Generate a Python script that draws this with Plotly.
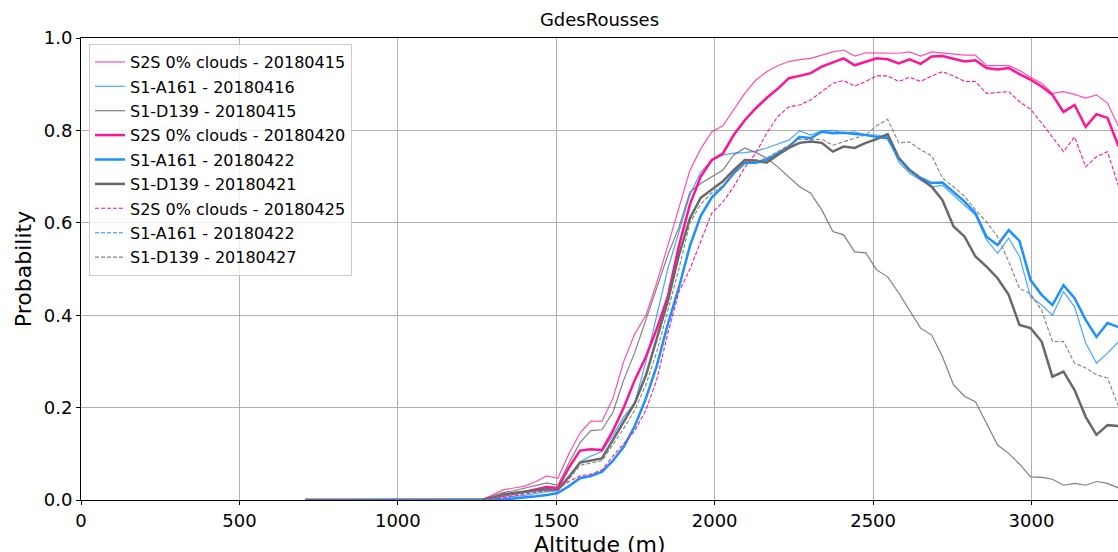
import plotly.graph_objects as go

altitude = [707, 742, 776, 811, 846, 880, 915, 950, 985, 1019, 1054, 1089, 1123, 1158, 1193,
            1227, 1262, 1297, 1332, 1366, 1401, 1436, 1470, 1505, 1540, 1575, 1609, 1644, 1679,
            1713, 1748, 1783, 1817, 1852, 1887, 1922, 1956, 1991, 2026, 2060, 2095, 2130, 2164,
            2199, 2234, 2268, 2303, 2338, 2373, 2407, 2442, 2477, 2511, 2546, 2581, 2615, 2650,
            2685, 2719, 2754, 2789, 2823, 2858, 2893, 2928, 2962, 2997, 3032, 3066, 3101, 3136,
            3171, 3205, 3240, 3275]

Z = [0.0] * 16

s2s_20180415 = Z + [
    0.0, 0.01, 0.022, 0.026, 0.03, 0.04, 0.052, 0.047, 0.10, 0.145,
    0.171, 0.17, 0.22, 0.30, 0.36, 0.40, 0.47, 0.55, 0.63, 0.714,
    0.76, 0.797, 0.81, 0.844, 0.88, 0.909, 0.927, 0.94, 0.949, 0.953,
    0.956, 0.963, 0.970, 0.974, 0.961, 0.968, 0.968, 0.968, 0.967, 0.970,
    0.961, 0.970, 0.968, 0.965, 0.963, 0.963, 0.94, 0.94, 0.94, 0.93,
    0.915, 0.902, 0.880, 0.884, 0.878, 0.870, 0.877, 0.859, 0.808]

s1a_20180416 = Z + [
    0.0, 0.002, 0.004, 0.008, 0.01, 0.014, 0.018, 0.02, 0.05, 0.083,
    0.095, 0.105, 0.14, 0.18, 0.21, 0.30, 0.40, 0.50, 0.58, 0.66,
    0.71, 0.735, 0.747, 0.751, 0.752, 0.755, 0.762, 0.77, 0.779, 0.799,
    0.790, 0.799, 0.80, 0.794, 0.797, 0.79, 0.79, 0.786, 0.732, 0.707,
    0.693, 0.678, 0.681, 0.66, 0.638, 0.617, 0.563, 0.534, 0.567, 0.527,
    0.44, 0.422, 0.40, 0.451, 0.418, 0.34, 0.296, 0.318, 0.343]

s1d_20180415 = Z + [
    0.0, 0.008, 0.016, 0.02, 0.026, 0.032, 0.037, 0.032, 0.08, 0.124,
    0.15, 0.152, 0.19, 0.26, 0.32, 0.39, 0.46, 0.53, 0.59, 0.667,
    0.685, 0.70, 0.714, 0.747, 0.762, 0.752, 0.74, 0.721, 0.70, 0.678,
    0.664, 0.628, 0.581, 0.574, 0.537, 0.535, 0.498, 0.483, 0.448, 0.411,
    0.372, 0.357, 0.31, 0.249, 0.224, 0.213, 0.167, 0.119, 0.101, 0.078,
    0.05, 0.049, 0.045, 0.032, 0.036, 0.032, 0.04, 0.036, 0.026]

s2s_20180420 = Z + [
    0.0, 0.005, 0.01, 0.014, 0.018, 0.023, 0.028, 0.026, 0.07, 0.107,
    0.110, 0.108, 0.15, 0.20, 0.26, 0.31, 0.37, 0.44, 0.55, 0.64,
    0.70, 0.736, 0.75, 0.790, 0.822, 0.848, 0.870, 0.89, 0.913, 0.918,
    0.924, 0.938, 0.948, 0.956, 0.941, 0.949, 0.956, 0.954, 0.945, 0.954,
    0.944, 0.960, 0.961, 0.955, 0.949, 0.952, 0.935, 0.932, 0.935, 0.922,
    0.91, 0.895, 0.877, 0.840, 0.855, 0.808, 0.835, 0.827, 0.765]

s1a_20180422 = Z + [
    0.0, 0.0, 0.001, 0.003, 0.005, 0.008, 0.011, 0.015, 0.03, 0.047,
    0.052, 0.061, 0.085, 0.115, 0.16, 0.22, 0.29, 0.38, 0.46, 0.55,
    0.615, 0.655, 0.678, 0.707, 0.730, 0.730, 0.736, 0.751, 0.765, 0.786,
    0.783, 0.797, 0.794, 0.795, 0.793, 0.790, 0.786, 0.783, 0.740, 0.714,
    0.697, 0.686, 0.687, 0.667, 0.646, 0.621, 0.570, 0.552, 0.584, 0.561,
    0.476, 0.444, 0.422, 0.465, 0.437, 0.39, 0.353, 0.383, 0.374]

s1d_20180421 = Z + [
    0.0, 0.004, 0.012, 0.015, 0.018, 0.02, 0.023, 0.022, 0.05, 0.081,
    0.085, 0.09, 0.13, 0.17, 0.21, 0.27, 0.35, 0.43, 0.53, 0.61,
    0.654, 0.672, 0.69, 0.714, 0.736, 0.735, 0.73, 0.747, 0.762, 0.773,
    0.776, 0.773, 0.754, 0.765, 0.762, 0.773, 0.781, 0.792, 0.740, 0.714,
    0.697, 0.678, 0.649, 0.592, 0.570, 0.527, 0.505, 0.48, 0.444, 0.379,
    0.372, 0.343, 0.267, 0.278, 0.238, 0.18, 0.141, 0.162, 0.16]

s2s_20180425 = Z + [
    0.0, 0.002, 0.006, 0.01, 0.013, 0.017, 0.02, 0.025, 0.04, 0.052,
    0.056, 0.065, 0.095, 0.123, 0.15, 0.195, 0.26, 0.36, 0.45, 0.50,
    0.56, 0.621, 0.645, 0.678, 0.72, 0.751, 0.794, 0.83, 0.851, 0.855,
    0.866, 0.884, 0.902, 0.908, 0.896, 0.906, 0.918, 0.918, 0.906, 0.915,
    0.906, 0.918, 0.927, 0.918, 0.906, 0.906, 0.880, 0.882, 0.884, 0.862,
    0.846, 0.816, 0.786, 0.754, 0.786, 0.721, 0.743, 0.754, 0.678]

s1a_20180422_b = list(s1a_20180422)

s1d_20180427 = Z + [
    0.0, 0.003, 0.01, 0.012, 0.015, 0.018, 0.02, 0.02, 0.045, 0.075,
    0.08, 0.085, 0.12, 0.155, 0.195, 0.25, 0.32, 0.41, 0.50, 0.60,
    0.64, 0.665, 0.68, 0.707, 0.733, 0.733, 0.74, 0.754, 0.768, 0.781,
    0.78, 0.781, 0.768, 0.776, 0.783, 0.79, 0.81, 0.824, 0.773, 0.775,
    0.758, 0.745, 0.697, 0.678, 0.657, 0.628, 0.602, 0.57, 0.516, 0.458,
    0.446, 0.411, 0.343, 0.343, 0.296, 0.286, 0.271, 0.264, 0.202]

series_names = ["S2S 0% clouds - 20180415", "S1-A161 - 20180416", "S1-D139 - 20180415",
                "S2S 0% clouds - 20180420", "S1-A161 - 20180422", "S1-D139 - 20180421",
                "S2S 0% clouds - 20180425", "S1-A161 - 20180422", "S1-D139 - 20180427"]
series_values = [s2s_20180415, s1a_20180416, s1d_20180415,
                 s2s_20180420, s1a_20180422, s1d_20180421,
                 s2s_20180425, s1a_20180422_b, s1d_20180427]
series_colors = ["rgba(255,20,147,0.75)", "rgba(30,144,255,0.8)", "rgba(105,105,105,0.85)",
                 "#ff1493", "#1e90ff", "#696969",
                 "#ff1493", "#1e90ff", "#808080"]
series_widths = [1.2, 1.2, 1.2, 2.5, 2.5, 2.5, 1.1, 1.1, 1.1]
series_dash = ["solid", "solid", "solid", "solid", "solid", "solid",
               "4px,2px", "4px,2px", "4px,2px"]

FONT = "DejaVu Sans"

fig = go.Figure()
for i, (nm, vals) in enumerate(zip(series_names, series_values)):
    fig.add_trace(go.Scatter(
        x=altitude, y=vals, mode="lines", name=nm, legendgroup="g%d" % i,
        line=dict(color=series_colors[i], width=series_widths[i], dash=series_dash[i]),
    ))

fig.update_layout(
    width=1118, height=552,
    margin=dict(l=81, r=0, t=38, b=52),
    paper_bgcolor="white", plot_bgcolor="white",
    font=dict(family=FONT, color="black", size=16),
    title=dict(text="GdesRousses", x=0.5, xref="paper", y=1 - 20 / 552, yref="container",
               xanchor="center", yanchor="middle", font=dict(size=18, family=FONT)),
    showlegend=True,
    legend=dict(x=0.0077, y=0.987, xanchor="left", yanchor="top",
                bgcolor="rgba(255,255,255,0.8)", bordercolor="#cccccc", borderwidth=1,
                font=dict(size=16, family=FONT), tracegroupgap=0.6, itemwidth=30),
    xaxis=dict(range=[0, 3273], tickvals=[0, 500, 1000, 1500, 2000, 2500, 3000],
               showgrid=True, gridcolor="#b0b0b0", gridwidth=1, zeroline=False,
               showline=True, linecolor="black", linewidth=1, mirror=True,
               ticks="outside", ticklen=4, tickcolor="black", tickfont=dict(size=18)),
    yaxis=dict(range=[0, 1], tickvals=[0, 0.2, 0.4, 0.6, 0.8, 1.0], tickformat=".1f",
               showgrid=True, gridcolor="#b0b0b0", gridwidth=1, zeroline=False,
               showline=True, linecolor="black", linewidth=1,
               ticks="outside", ticklen=4, tickcolor="black", tickfont=dict(size=18),
               title=dict(text="Probability", font=dict(size=22), standoff=6)),
    annotations=[dict(text="Altitude (m)", xref="paper", yref="paper", x=0.5, y=-44 / 462,
                      xanchor="center", yanchor="middle", showarrow=False,
                      font=dict(size=22, family=FONT, color="black"))],
)

fig.write_html("out.html")
